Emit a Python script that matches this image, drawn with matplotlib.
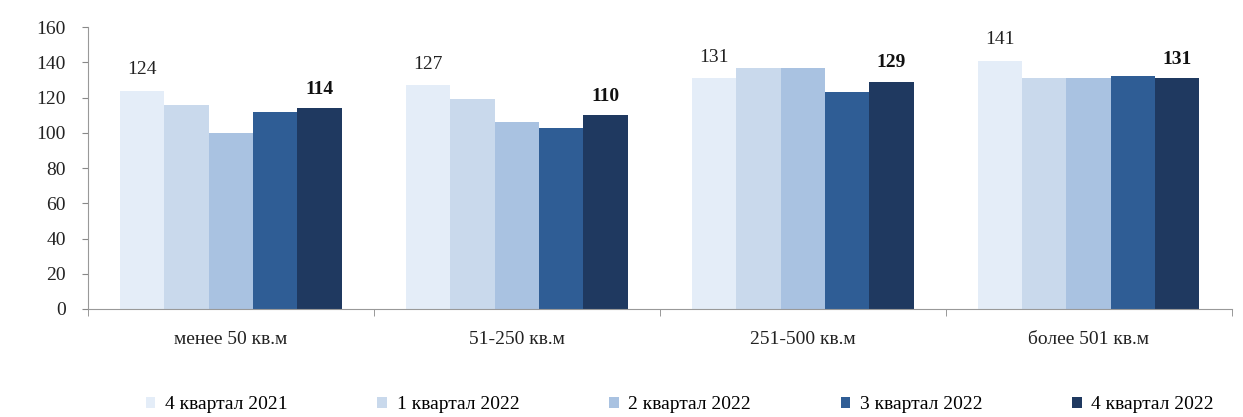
import matplotlib
matplotlib.use("Agg")
import matplotlib.pyplot as plt
import numpy as np

categories = ["менее 50 кв.м", "51-250 кв.м", "251-500 кв.м", "более 501 кв.м"]
series_names = ["4 квартал 2021", "1 квартал 2022", "2 квартал 2022", "3 квартал 2022", "4 квартал 2022"]
q4_2021 = [124, 127, 131, 141]
q1_2022 = [116, 119, 137, 131]
q2_2022 = [100, 106, 137, 131]
q3_2022 = [112, 103, 123, 132]
q4_2022 = [114, 110, 129, 131]
yticks = [0, 20, 40, 60, 80, 100, 120, 140, 160]

series = [q4_2021, q1_2022, q2_2022, q3_2022, q4_2022]
colors = ["#e4edf8", "#c9d9ec", "#a9c2e1", "#2f5d95", "#1f3960"]

plt.rcParams["font.family"] = ["Liberation Serif", "DejaVu Serif"]

fig = plt.figure(figsize=(12.43, 4.17), dpi=100)
ax = fig.add_axes([0.0708, 0.259, 0.920, 0.676])

x = np.arange(len(categories))
n = len(series)
bw = 0.155
for i, (vals, c, name) in enumerate(zip(series, colors, series_names)):
    pos = x + (i - (n - 1) / 2) * bw
    ax.bar(pos, vals, width=bw, color=c, label=name, zorder=2)
    if i == 0:
        for p, v in zip(pos, vals):
            ax.text(p, v + 7, f"{v}", ha="center", va="bottom", fontsize=14, color="#222222")
    elif i == n - 1:
        for p, v in zip(pos, vals):
            ax.text(p, v + 6, f"{v}", ha="center", va="bottom", fontsize=14,
                    fontweight="bold", color="#111111")

ax.set_xlim(-0.5, len(categories) - 0.5)
ax.set_ylim(0, 160)
ax.set_yticks(yticks)
ax.tick_params(axis="y", labelsize=14, length=4, pad=12, color="#888888", labelcolor="#222222")
ax.set_xticks(x)
ax.set_xticklabels(categories, fontsize=14, color="#222222")
ax.tick_params(axis="x", length=0, pad=16)
ax.set_xticks(np.arange(len(categories) + 1) - 0.5, minor=True)
ax.tick_params(axis="x", which="minor", length=5, color="#888888")

for s in ["top", "right"]:
    ax.spines[s].set_visible(False)
for s in ["left", "bottom"]:
    ax.spines[s].set_color("#999999")

fig.legend(loc="center", bbox_to_anchor=(0.547, 0.03), ncol=5, frameon=False,
           fontsize=14, handlelength=0.5, handleheight=0.5, columnspacing=4.6,
           handletextpad=0.5)

fig.savefig("out.png", dpi=100)
